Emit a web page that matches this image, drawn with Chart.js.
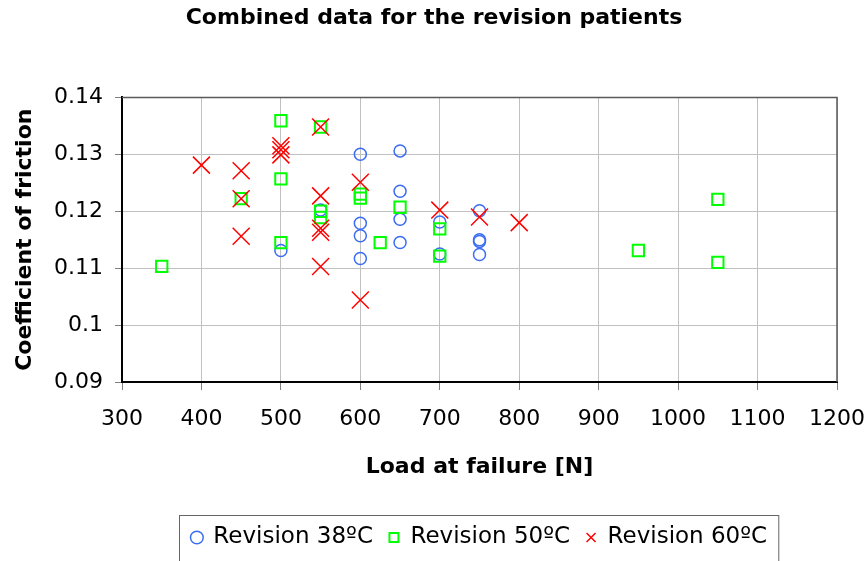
<!DOCTYPE html>
<html>
<head>
<meta charset="utf-8">
<script src="https://cdn.jsdelivr.net/npm/chart.js@4/dist/chart.umd.min.js"></script>
<style>
  html, body { margin: 0; padding: 0; background: #fff; }
  #wrap { width: 868px; height: 561px; }
</style>
</head>
<body>
<div id="wrap"><canvas id="frictionChart"></canvas></div>
<script>
// data
const load38 = [500, 550, 600, 600, 600, 600, 650, 650, 650, 650, 700, 700, 750, 750, 750, 750];
const cof38 = [0.1131, 0.1202, 0.1300, 0.1179, 0.1157, 0.1117, 0.1306, 0.1235, 0.1186, 0.1145, 0.1181, 0.1125, 0.1201, 0.1150, 0.1147, 0.1124];

const load50 = [350, 450, 500, 500, 500, 550, 550, 550, 600, 600, 625, 650, 700, 700, 950, 1050, 1050];
const cof50 = [0.1103, 0.1222, 0.1359, 0.1257, 0.1145, 0.1348, 0.1200, 0.1189, 0.1230, 0.1223, 0.1145, 0.1207, 0.1169, 0.1121, 0.1131, 0.1221, 0.1110];

const load60 = [400, 450, 450, 450, 500, 500, 500, 550, 550, 550, 550, 550, 600, 600, 700, 750, 800];
const cof60 = [0.1281, 0.1271, 0.1222, 0.1156, 0.1315, 0.1308, 0.1299, 0.1348, 0.1227, 0.1170, 0.1163, 0.1103, 0.1251, 0.1044, 0.1202, 0.1190, 0.1180];

const seriesNames = ['Revision 38ºC', 'Revision 50ºC', 'Revision 60ºC'];

const xTickValues = [300, 400, 500, 600, 700, 800, 900, 1000, 1100, 1200];
const xTickLabels = ['300', '400', '500', '600', '700', '800', '900', '1000', '1100', '1200'];
const yTickValues = [0.09, 0.10, 0.11, 0.12, 0.13, 0.14];
const yTickLabels = ['0.09', '0.1', '0.11', '0.12', '0.13', '0.14'];

const toPoints = (xs, ys) => xs.map((x, i) => ({x: x, y: ys[i]}));

const FONT = "'DejaVu Sans', Verdana, sans-serif";

// border round the legend and dark frame on top/right of the plot
const framePlugin = {
    id: 'frame',
    afterDraw(chart) {
        const ctx = chart.ctx;
        const a = chart.chartArea;
        ctx.save();
        ctx.strokeStyle = '#5a5a5a';
        ctx.lineWidth = 1.5;
        ctx.beginPath();
        ctx.moveTo(a.left, a.top);
        ctx.lineTo(a.right, a.top);
        ctx.lineTo(a.right, a.bottom);
        ctx.stroke();

        const boxes = chart.legend.legendHitBoxes;
        if (boxes && boxes.length) {
            const first = boxes[0];
            const last = boxes[boxes.length - 1];
            const left = first.left - 13;
            const right = last.left + last.width + 11;
            const top = first.top - 11;
            ctx.strokeStyle = '#666';
            ctx.lineWidth = 1;
            ctx.strokeRect(Math.round(left) + 0.5, Math.round(top) + 0.5, right - left, chart.height);
        }
        ctx.restore();
    }
};

const whiteBg = {
    id: 'whiteBg',
    beforeDraw(chart) {
        const ctx = chart.ctx;
        ctx.save();
        ctx.fillStyle = '#fff';
        ctx.fillRect(0, 0, chart.width, chart.height);
        ctx.restore();
    }
};

const config = {
    type: 'scatter',
    data: {
        datasets: [
            {
                label: seriesNames[0],
                data: toPoints(load38, cof38),
                pointStyle: 'circle',
                pointRadius: 6,
                borderWidth: 1.5,
                borderColor: '#3a6cf4',
                backgroundColor: 'rgba(0,0,0,0)',
                order: 2
            },
            {
                label: seriesNames[1],
                data: toPoints(load50, cof50),
                pointStyle: 'rect',
                pointRadius: 8,
                borderWidth: 2,
                borderColor: '#00ff00',
                backgroundColor: 'rgba(0,0,0,0)',
                order: 1
            },
            {
                label: seriesNames[2],
                data: toPoints(load60, cof60),
                pointStyle: 'crossRot',
                pointRadius: 12,
                borderWidth: 1.5,
                borderColor: '#ff0000',
                backgroundColor: 'rgba(0,0,0,0)',
                order: 0
            }
        ]
    },
    options: {
        responsive: true,
        maintainAspectRatio: false,
        animation: false,
        layout: {padding: {left: 0, right: 0, top: 0, bottom: 2}},
        plugins: {
            tooltip: {enabled: false},
            title: {
                display: true,
                text: 'Combined data for the revision patients',
                color: '#000',
                font: {family: FONT, size: 22, weight: 'bold'},
                padding: {top: 5, bottom: 66}
            },
            legend: {
                position: 'bottom',
                fullSize: false,
                labels: {
                    usePointStyle: true,
                    boxWidth: 10,
                    boxHeight: 9,
                    padding: 16,
                    color: '#000',
                    font: {family: FONT, size: 23},
                    sort: (a, b) => a.datasetIndex - b.datasetIndex
                }
            }
        },
        scales: {
            x: {
                type: 'linear',
                min: 300,
                max: 1200,
                afterBuildTicks: s => { s.ticks = xTickValues.map(v => ({value: v})); },
                afterFit: s => { s.height = 128; s.paddingRight = 31; },
                ticks: {
                    color: '#000',
                    font: {family: FONT, size: 22},
                    padding: 16,
                    maxRotation: 0,
                    callback: (v, i) => xTickLabels[i]
                },
                grid: {color: '#c0c0c0', tickColor: '#808080', tickLength: 8, lineWidth: 1},
                border: {color: '#000', width: 2},
                title: {
                    display: true,
                    text: 'Load at failure [N]',
                    color: '#000',
                    font: {family: FONT, size: 22, weight: 'bold'},
                    padding: {top: 0, bottom: 30}
                }
            },
            y: {
                min: 0.09,
                max: 0.14,
                afterBuildTicks: s => { s.ticks = yTickValues.map(v => ({value: v})); },
                afterFit: s => { s.width = 122; },
                ticks: {
                    color: '#000',
                    font: {family: FONT, size: 22},
                    padding: 12,
                    callback: (v, i) => yTickLabels[i]
                },
                grid: {color: '#c0c0c0', tickColor: '#808080', tickLength: 7, lineWidth: 1},
                border: {color: '#000', width: 2},
                title: {
                    display: true,
                    text: 'Coefficient of friction',
                    color: '#000',
                    font: {family: FONT, size: 22, weight: 'bold'},
                    padding: {top: 12, bottom: 0}
                }
            }
        }
    },
    plugins: [whiteBg, framePlugin]
};

const frictionChart = new Chart(document.querySelector('#frictionChart').getContext('2d'), config);
</script>
</body>
</html>
